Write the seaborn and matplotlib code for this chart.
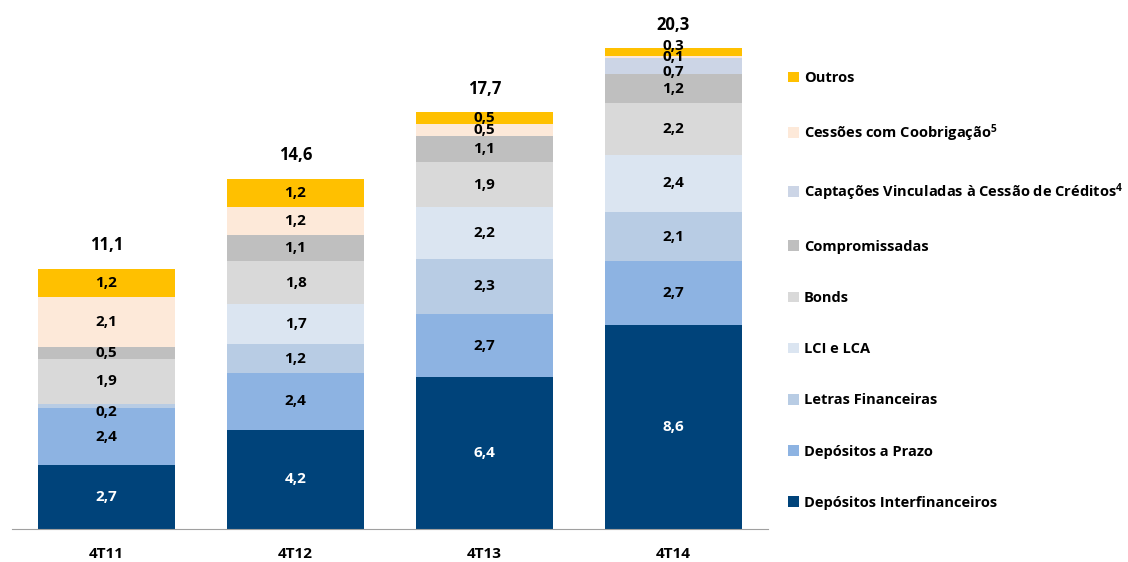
import matplotlib
matplotlib.use("Agg")
import matplotlib.pyplot as plt
import seaborn as sns
import numpy as np
from matplotlib.patches import Patch

# Dados (R$ bilhões)
periodos = ["4T11", "4T12", "4T13", "4T14"]
series = [
    "Depósitos Interfinanceiros",
    "Depósitos a Prazo",
    "Letras Financeiras",
    "LCI e LCA",
    "Bonds",
    "Compromissadas",
    "Captações Vinculadas à Cessão de Créditos",
    "Cessões com Coobrigação",
    "Outros",
]
dep_interfinanceiros = [2.7, 4.2, 6.4, 8.6]
dep_prazo = [2.4, 2.4, 2.7, 2.7]
letras_financeiras = [0.2, 1.2, 2.3, 2.1]
lci_lca = [0.0, 1.7, 2.2, 2.4]
bonds = [1.9, 1.8, 1.9, 2.2]
compromissadas = [0.5, 1.1, 1.1, 1.2]
captacoes_cessao = [0.0, 0.0, 0.0, 0.7]
cessoes_coobrigacao = [2.1, 1.2, 0.5, 0.1]
outros = [1.2, 1.2, 0.5, 0.3]
totais = [11.1, 14.6, 17.7, 20.3]

valores = [dep_interfinanceiros, dep_prazo, letras_financeiras, lci_lca, bonds,
           compromissadas, captacoes_cessao, cessoes_coobrigacao, outros]
cores = ["#00437a", "#8db3e2", "#b8cce4", "#dbe5f1", "#d9d9d9",
         "#bfbfbf", "#ccd5e6", "#fde9d9", "#ffc000"]
legendas = [
    "Depósitos Interfinanceiros",
    "Depósitos a Prazo",
    "Letras Financeiras",
    "LCI e LCA",
    "Bonds",
    "Compromissadas",
    "Captações Vinculadas à Cessão de Créditos$^{4}$",
    "Cessões com Coobrigação$^{5}$",
    "Outros",
]

sns.set_style("white")
plt.rcParams["font.family"] = ["Open Sans", "DejaVu Sans"]
plt.rcParams["mathtext.default"] = "regular"
plt.rcParams["text.color"] = "black"
plt.rcParams["xtick.color"] = "black"

fig = plt.figure(figsize=(11.28, 5.62), dpi=100)
ax = fig.add_axes([12 / 1128, 33 / 562, 756 / 1128, 509 / 562])

# barras empilhadas: desenha os acumulados do maior para o menor
acumulado = np.cumsum(np.array(valores), axis=0)
for k in range(len(series) - 1, -1, -1):
    sns.barplot(x=periodos, y=acumulado[k], color=cores[k], saturation=1,
                width=0.725, linewidth=0, ax=ax)

# ajuste vertical dos rótulos muito finos (como no original, que se sobrepõem)
ajuste = {(8, 3): 0.25, (6, 3): -0.25, (2, 0): -0.25}

# rótulos dos segmentos
for k, vals in enumerate(valores):
    base = acumulado[k] - np.array(vals)
    for i, v in enumerate(vals):
        if v <= 0:
            continue
        ax.text(i, base[i] + v / 2 + ajuste.get((k, i), 0),
                f"{v:.1f}".replace(".", ","),
                ha="center", va="center", fontsize=11, fontweight="bold",
                color="white" if k == 0 else "black")

# totais
for i, t in enumerate(totais):
    ax.text(i, acumulado[-1][i] + 1.0, f"{t:.1f}".replace(".", ","),
            ha="center", va="center", fontsize=12, fontweight="bold",
            color="black")

ax.set_ylim(0, 21.5)
ax.set_xlim(-0.5, 3.5)
ax.set_ylabel("")
ax.set_yticks([])
for s in ["left", "top", "right"]:
    ax.spines[s].set_visible(False)
ax.spines["bottom"].set_color("#a0a0a0")
ax.set_xticks([-0.5, 0.5, 1.5, 2.5, 3.5])
ax.set_xticklabels([])
ax.tick_params(axis="x", which="major", length=6, color="#a0a0a0", direction="out")
ax.set_xticks(range(len(periodos)), minor=True)
ax.set_xticklabels(periodos, minor=True, fontsize=11, fontweight="bold")
ax.tick_params(axis="x", which="minor", length=0, pad=13, labelcolor="black")

# legenda
handles = [Patch(facecolor=c, edgecolor="none") for c in cores][::-1]
leg = fig.legend(handles, legendas[::-1], loc="upper left",
                 bbox_to_anchor=(788 / 1128, 1 - 71 / 562), frameon=False,
                 fontsize=10.5, handlelength=0.75, handleheight=0.75,
                 handletextpad=0.35, labelspacing=2.55, borderpad=0,
                 borderaxespad=0)
for txt in leg.get_texts():
    txt.set_fontweight("bold")
    txt.set_color("black")

fig.savefig("out.png", dpi=100)
